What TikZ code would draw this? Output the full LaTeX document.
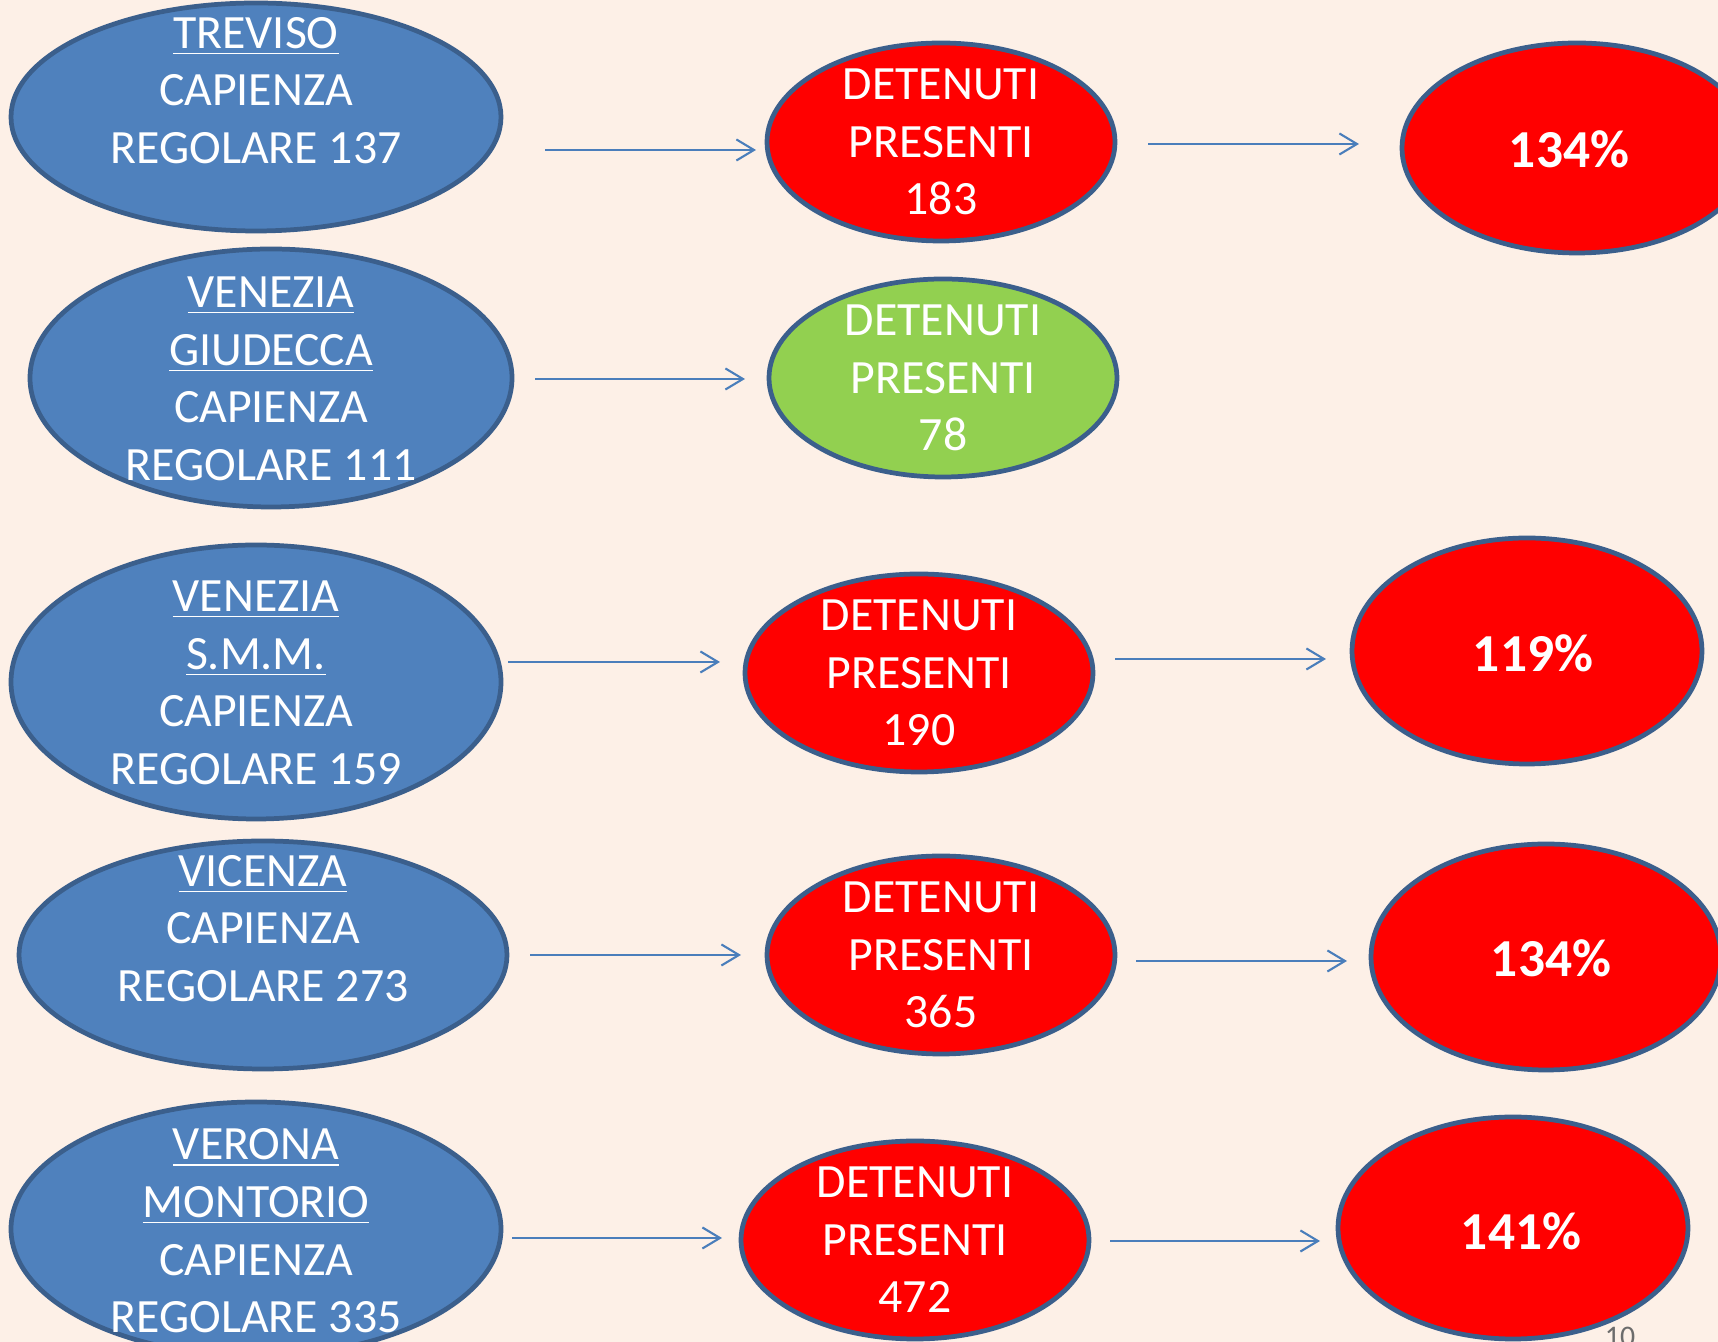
\documentclass[tikz,border=0pt]{standalone}
\usepackage{fontspec}
\setmainfont{Carlito}
\usetikzlibrary{arrows.meta,shapes.geometric}

\definecolor{sfondo}{HTML}{FDF0E7}
\definecolor{blusede}{HTML}{4F81BD}
\definecolor{bordo}{HTML}{3B5F8C}
\definecolor{rosso}{HTML}{FF0000}
\definecolor{verde}{HTML}{92D050}
\definecolor{azzurro}{HTML}{4A7EBB}

\begin{document}
\begin{tikzpicture}[x=0.1mm,y=-0.1mm]
       \tikzstyle{ovale}=[ellipse,draw=bordo,line width=1.35pt,inner sep=0pt]
       \tikzstyle{sede}=[ovale,fill=blusede,minimum width=49mm]
       \tikzstyle{detenuti}=[ovale,fill=rosso,minimum width=34.8mm,minimum height=19.8mm]
       \tikzstyle{quota}=[ovale,fill=rosso,minimum width=35mm]
       \tikzstyle{testo}=[text=white,align=center,inner sep=0pt,font=\fontsize{13.6}{16.4}\selectfont]
       \tikzstyle{perc}=[text=white,inner sep=0pt,font=\fontsize{15.2}{17}\selectfont\bfseries]
       \tikzstyle{freccia}=[draw=azzurro,line width=0.6pt,-{Straight Barb[length=5pt,width=6pt]}]

       \fill[sfondo] (0,0) rectangle (1718,1342);
       \useasboundingbox (0,0) rectangle (1718,1342);

       % sedi
       \node[sede,minimum height=22.8mm] (treviso) at (256,117) {};
       \node[sede,minimum width=48.2mm,minimum height=25.8mm] (giudecca) at (271,378) {};
       \node[sede,minimum height=27.4mm] (smm) at (256,682) {};
       \node[sede,minimum width=48.8mm,minimum height=22.8mm] (vicenza) at (263,955) {};
       \node[sede,minimum height=25.4mm] (verona) at (256,1229) {};

       \node[testo] (treviso_t) at (256,119) {\underline{TREVISO}\\CAPIENZA\\REGOLARE 137\\~};
       \node[testo] (giudecca_t) at (271,379) {\underline{VENEZIA}\\\underline{GIUDECCA}\\CAPIENZA\\REGOLARE 111};
       \node[testo] (smm_t) at (256,683) {\underline{VENEZIA}\\\underline{S.M.M.}\\CAPIENZA\\REGOLARE 159};
       \node[testo] (vicenza_t) at (263,957) {\underline{VICENZA}\\CAPIENZA\\REGOLARE 273\\~};
       \node[testo] (verona_t) at (256,1231) {\underline{VERONA}\\\underline{MONTORIO}\\CAPIENZA\\REGOLARE 335};

       % detenuti presenti
       \node[detenuti] (det_tv) at (941,142) {};
       \node[detenuti,fill=verde] (det_gi) at (943,378) {};
       \node[detenuti] (det_smm) at (919,673) {};
       \node[detenuti] (det_vi) at (941,955) {};
       \node[detenuti] (det_vr) at (915,1240) {};

       \node[testo] (det_tv_t) at (det_tv) {DETENUTI\\PRESENTI\\183};
       \node[testo] (det_gi_t) at (det_gi) {DETENUTI\\PRESENTI\\78};
       \node[testo] (det_smm_t) at (det_smm) {DETENUTI\\PRESENTI\\190};
       \node[testo] (det_vi_t) at (det_vi) {DETENUTI\\PRESENTI\\365};
       \node[testo] (det_vr_t) at (det_vr) {DETENUTI\\PRESENTI\\472};

       % percentuali
       \node[quota,minimum height=21mm] (q_tv) at (1577,148) {};
       \node[quota,minimum height=22.6mm] (q_smm) at (1527,651) {};
       \node[quota,minimum height=22.6mm] (q_vi) at (1546,957) {};
       \node[quota,minimum height=22.2mm] (q_vr) at (1513,1228) {};

       \node[perc] (q_tv_t) at (1569,149) {134\%};
       \node[perc] (q_smm_t) at (1533,653) {119\%};
       \node[perc] (q_vi_t) at (1551,958) {134\%};
       \node[perc] (q_vr_t) at (1521,1231) {141\%};

       \coordinate (tv_a) at (545,150);   \coordinate (tv_b) at (756,150);
       \coordinate (tv_c) at (1148,144);  \coordinate (tv_d) at (1359,144);
       \coordinate (gi_a) at (535,379);   \coordinate (gi_b) at (745,379);
       \coordinate (smm_a) at (508,662);  \coordinate (smm_b) at (720,662);
       \coordinate (smm_c) at (1115,659); \coordinate (smm_d) at (1326,659);
       \coordinate (vi_a) at (530,955);   \coordinate (vi_b) at (741,955);
       \coordinate (vi_c) at (1136,961);  \coordinate (vi_d) at (1347,961);
       \coordinate (vr_a) at (512,1238);  \coordinate (vr_b) at (722,1238);
       \coordinate (vr_c) at (1110,1241); \coordinate (vr_d) at (1320,1241);

       \path[freccia] (tv_a) -- (tv_b);
       \path[freccia] (tv_c) -- (tv_d);
       \path[freccia] (gi_a) -- (gi_b);
       \path[freccia] (smm_a) -- (smm_b);
       \path[freccia] (smm_c) -- (smm_d);
       \path[freccia] (vi_a) -- (vi_b);
       \path[freccia] (vi_c) -- (vi_d);
       \path[freccia] (vr_a) -- (vr_b);
       \path[freccia] (vr_c) -- (vr_d);

       \node[anchor=base,text=gray!85!black,font=\fontsize{8.5}{10}\selectfont] (pagina) at (1620,1347) {10};
     \end{tikzpicture}
\end{document}
